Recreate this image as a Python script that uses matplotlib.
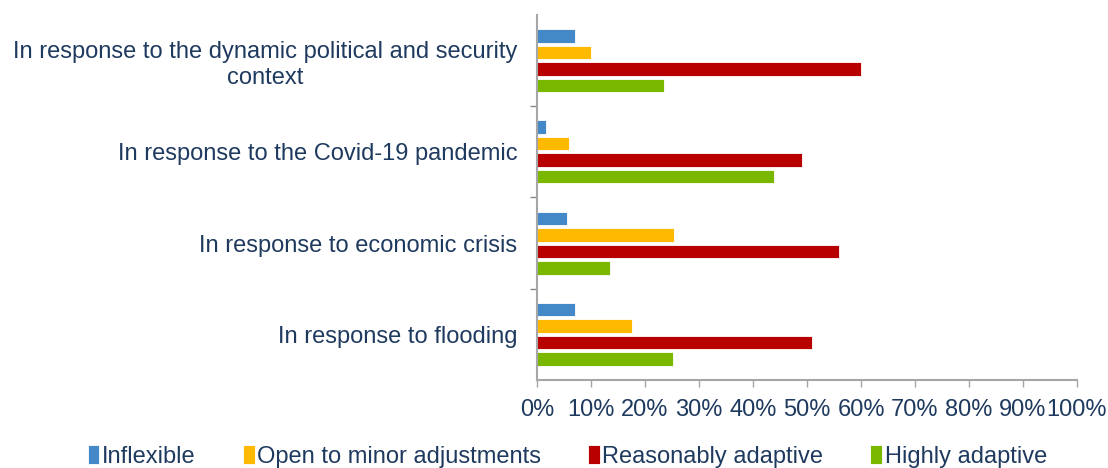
import numpy as np
import matplotlib.pyplot as plt
from matplotlib.ticker import FixedLocator, PercentFormatter

plt.rcParams['font.family'] = ['Liberation Sans', 'DejaVu Sans']

categories = ['In response to the dynamic political and security\ncontext',
              'In response to the Covid-19 pandemic',
              'In response to economic crisis',
              'In response to flooding']
series = ['Inflexible', 'Open to minor adjustments', 'Reasonably adaptive', 'Highly adaptive']
inflexible = [7, 1.6, 5.5, 7]
minor_adj = [10, 6, 25.3, 17.5]
reasonably = [60, 49, 56, 51]
highly = [23.6, 43.8, 13.6, 25.1]
colors = ['#4389C8', '#FFB900', '#B90000', '#7AB800']
text_col = '#1F3A5F'

values = [inflexible, minor_adj, reasonably, highly]

fig = plt.figure(figsize=(11.08, 4.68), dpi=100)
ax = fig.add_axes([0.4847, 0.188, 0.4873, 0.78])

y = np.arange(len(categories))
pitch = 0.181
for i, (vals, c, name) in enumerate(zip(values, colors, series)):
    ax.barh(y + (i - 1.5) * pitch, vals, height=0.15, color=c, label=name,
            edgecolor='white', linewidth=0.6)

ax.set_ylim(3.5, -0.5)
ax.set_xlim(0, 100)
ax.set_yticks(y)
ax.set_yticklabels(categories, fontsize=17, color=text_col, ha='right',
                   multialignment='center')
ax.tick_params(axis='y', which='major', length=0, pad=14)
ax.yaxis.set_minor_locator(FixedLocator([0.5, 1.5, 2.5]))
ax.tick_params(axis='y', which='minor', length=5, width=1, color='#888888')

ax.set_xticks(np.arange(0, 101, 10))
ax.xaxis.set_major_formatter(PercentFormatter(decimals=0))
ax.tick_params(axis='x', length=5, width=1, color='#A6A6A6', labelsize=17,
               labelcolor=text_col, pad=9)

for s in ['top', 'right']:
    ax.spines[s].set_visible(False)
for s in ['left', 'bottom']:
    ax.spines[s].set_color('#A6A6A6')
    ax.spines[s].set_linewidth(1.5)

leg = fig.legend(loc='center', bbox_to_anchor=(0.512, 0.025), ncol=4,
                 frameon=False, fontsize=17, handlelength=0.5, handleheight=0.9,
                 handletextpad=0.1, columnspacing=2.0)
for t in leg.get_texts():
    t.set_color(text_col)

fig.savefig('out.png', dpi=100)
